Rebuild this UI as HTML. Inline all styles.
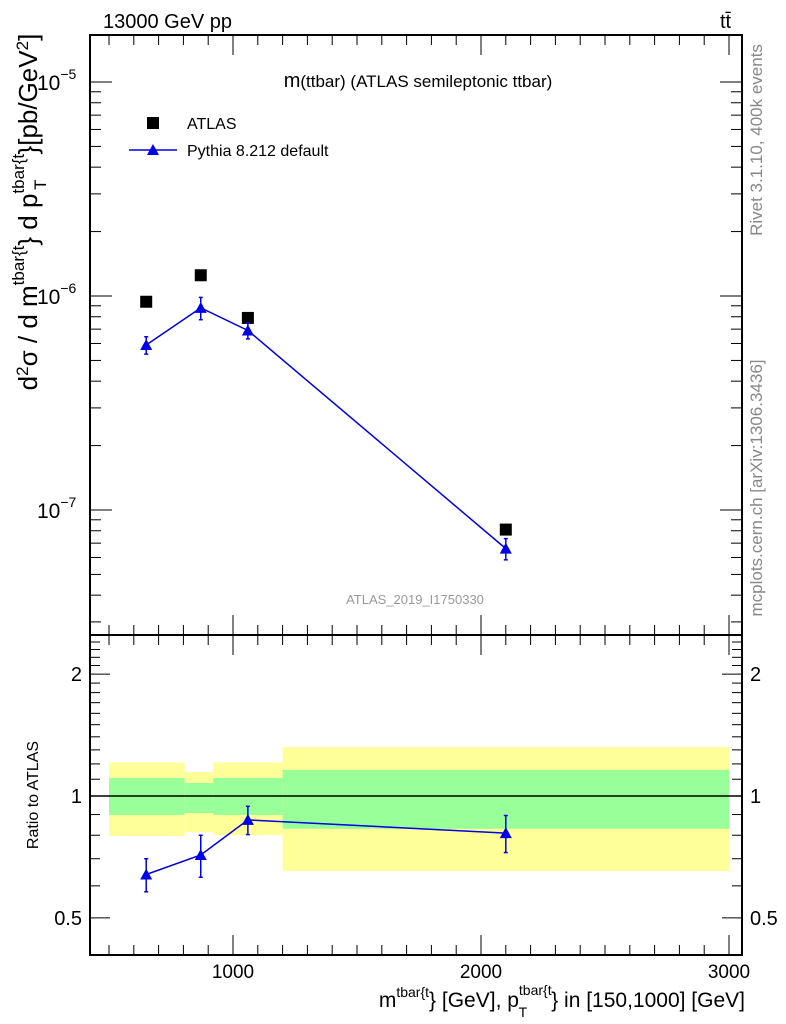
<!DOCTYPE html>
<html><head><meta charset="utf-8"><style>
html,body{margin:0;padding:0;background:#fff;}
svg{display:block;font-family:"Liberation Sans",sans-serif;}
</style></head><body>
<svg id="chart" width="786" height="1024" viewBox="0 0 786 1024">
<g id="bands"></g>
<g id="axes"></g>
<g id="series"></g>
<text x="103" y="28" font-size="20">13000 GeV pp</text>
<text x="720" y="28" font-size="20">tt̄</text>
<text x="418" y="87" font-size="17" text-anchor="middle"><tspan font-size="20">m</tspan>(ttbar) (ATLAS semileptonic ttbar)</text>
<rect x="147" y="117" width="12" height="12" fill="#000"/>
<text x="187" y="129" font-size="16">ATLAS</text>
<line x1="129" y1="150" x2="177" y2="150" stroke="#0000e6" stroke-width="1.5"/>
<polygon points="153,144 147,155 159,155" fill="#0000e6"/>
<text x="187" y="156" font-size="16">Pythia 8.212 default</text>
<text x="415" y="604" font-size="13" fill="#999" text-anchor="middle">ATLAS_2019_I1750330</text>
<text transform="translate(37,212) rotate(-90)" font-size="26" text-anchor="middle">d<tspan font-size="17" dy="-9">2</tspan><tspan dy="9">σ  /  d m</tspan><tspan font-size="17" dy="-13">tbar{t</tspan><tspan dy="13">} d p</tspan><tspan font-size="17" dy="-13">tbar{t</tspan><tspan font-size="17" dx="-36" dy="22">T</tspan><tspan dx="25" dy="-9">}[pb/GeV</tspan><tspan font-size="17" dy="-9">2</tspan><tspan dy="9">]</tspan></text>
<text transform="translate(38,795) rotate(-90)" font-size="16" text-anchor="middle">Ratio to ATLAS</text>
<text x="745" y="1007" font-size="21" text-anchor="end">m<tspan font-size="14" dy="-10">tbar{t</tspan><tspan dy="10">} [GeV], p</tspan><tspan font-size="14" dy="-12">tbar{t</tspan><tspan font-size="14" dx="-33" dy="22">T</tspan><tspan dx="24" dy="-10">} in [150,1000] [GeV]</tspan></text>
<text transform="translate(762,140) rotate(-90)" font-size="17" fill="#888" text-anchor="middle">Rivet 3.1.10,  400k events</text>
<text transform="translate(762,488) rotate(-90)" font-size="17" fill="#888" text-anchor="middle">mcplots.cern.ch [arXiv:1306.3436]</text>
</svg>
<script>
const binEdges=[500,805,920,1200,3000];
const xCenters=[650,870,1060,2100];
const atlasValues=[9.4e-7,1.25e-6,7.9e-7,8.1e-8];
const pythiaValues=[5.9e-7,8.8e-7,6.9e-7,6.6e-8];
const pythiaErrors=[0.55e-7,1.05e-7,0.6e-7,0.75e-8];
const ratioValues=[0.64,0.715,0.873,0.81];
const ratioErrors=[0.06,0.085,0.07,0.085];
const yellowHi=[1.21,1.146,1.21,1.32];
const yellowLo=[0.797,0.815,0.80,0.653];
const greenHi=[1.108,1.077,1.108,1.16];
const greenLo=[0.898,0.908,0.898,0.83];
const xTickLabels=[1000,2000,3000];
const ratioTickLabels=[0.5,1,2];

const NS="http://www.w3.org/2000/svg";
const L=90,R=742,T1=35,B1=635,T2=635,B2=955;
const X=v=>233+(v-1000)*0.248;
const Y1=v=>296-(Math.log10(v)+6)*214;
const Y2=v=>796-Math.log10(v)*405;
function mk(parent,tag,attrs){const e=document.createElementNS(NS,tag);for(const k in attrs)e.setAttribute(k,attrs[k]);document.getElementById(parent).appendChild(e);return e;}

for(let i=0;i<4;i++){
 const x1=X(binEdges[i]),x2=X(binEdges[i+1]);
 let r=mk('bands','rect',{x:x1,y:Y2(yellowHi[i]),width:x2-x1,height:Y2(yellowLo[i])-Y2(yellowHi[i]),fill:'#ffff99'});
 
 
 let g=mk('bands','rect',{x:x1,y:Y2(greenHi[i]),width:x2-x1,height:Y2(greenLo[i])-Y2(greenHi[i]),fill:'#99ff99'});
 
 
}
let one=mk('axes','line',{x1:L,x2:R,y1:Y2(1),y2:Y2(1),stroke:'#000','stroke-width':1.5});



for(const [t,b,n] of [[T1,B1,'main-frame'],[T2,B2,'ratio-frame']]){
 let f=mk('axes','rect',{x:L,y:t,width:R-L,height:b-t,fill:'none',stroke:'#000','stroke-width':2});
 
 
}
for(let v=500;v<=3000;v+=100){
 const x=X(v);if(x<L||x>R)continue;
 const big=v%1000===0, len=big?20:10;
 for(const [t,b] of [[T1,B1],[T2,B2]]){
  mk('axes','line',{x1:x,x2:x,y1:t,y2:t+len,stroke:'#000','stroke-width':1});
  mk('axes','line',{x1:x,x2:x,y1:b,y2:b-len,stroke:'#000','stroke-width':1});
 }
}
xTickLabels.forEach(v=>{let t=mk('axes','text',{x:X(v),y:978,'font-size':19,'text-anchor':'middle'});t.textContent=v;
 
 });
for(let d=-8;d<=-5;d++){for(let m=1;m<10;m++){
 const v=m*Math.pow(10,d),y=Y1(v);if(y<T1||y>B1)continue;
 const len=m===1?22:11;
 mk('axes','line',{x1:L,x2:L+len,y1:y,y2:y,stroke:'#000'});
 mk('axes','line',{x1:R,x2:R-len,y1:y,y2:y,stroke:'#000'});
 if(m===1){let t=mk('axes','text',{x:37,y:y+8,'font-size':21});t.innerHTML='10<tspan font-size="14" dy="-11">−'+(-d)+'</tspan>';
  
  }
}}
const rt=[0.4,0.5,0.6,0.7,0.8,0.9,1,1.1,1.2,1.3,1.4,1.5,1.6,1.7,1.8,1.9,2,2.1,2.2,2.3,2.4,2.5];
rt.forEach(v=>{const y=Y2(v);if(y<T2||y>B2)return;const big=ratioTickLabels.includes(v),len=big?20:10;
 mk('axes','line',{x1:L,x2:L+len,y1:y,y2:y,stroke:'#000'});
 mk('axes','line',{x1:R,x2:R-len,y1:y,y2:y,stroke:'#000'});});
ratioTickLabels.forEach(v=>{const y=Y2(v)+7;
 let a=mk('axes','text',{x:82,y:y,'font-size':20,'text-anchor':'end'});a.textContent=v;
 
 
 let b=mk('axes','text',{x:750,y:y,'font-size':20});b.textContent=v;
 
 });

const blue='#0000e6';
let pl=mk('series','polyline',{points:xCenters.map((x,i)=>X(x)+','+Y1(pythiaValues[i])).join(' '),fill:'none',stroke:blue,'stroke-width':1.5});


let rl=mk('series','polyline',{points:xCenters.map((x,i)=>X(x)+','+Y2(ratioValues[i])).join(' '),fill:'none',stroke:blue,'stroke-width':1.5});


function tri(x,y,nm){let p=mk('series','polygon',{points:`${x},${y-6} ${x-6},${y+5} ${x+6},${y+5}`,fill:blue});
 
 }
function err(x,y1,y2){mk('series','line',{x1:x,x2:x,y1:y1,y2:y2,stroke:blue,'stroke-width':1.5});
 mk('series','line',{x1:x-2,x2:x+2,y1:y1,y2:y1,stroke:blue,'stroke-width':1.5});
 mk('series','line',{x1:x-2,x2:x+2,y1:y2,y2:y2,stroke:blue,'stroke-width':1.5});}
xCenters.forEach((xv,i)=>{
 const x=X(xv);
 let s=mk('series','rect',{x:x-6,y:Y1(atlasValues[i])-6,width:12,height:12,fill:'#000'});
 
 
 err(x,Y1(pythiaValues[i]+pythiaErrors[i]),Y1(pythiaValues[i]-pythiaErrors[i]));
 tri(x,Y1(pythiaValues[i]),'pythia-point');
 err(x,Y2(ratioValues[i]+ratioErrors[i]),Y2(ratioValues[i]-ratioErrors[i]));
 tri(x,Y2(ratioValues[i]),'ratio-point');
});
</script>
</body></html>
